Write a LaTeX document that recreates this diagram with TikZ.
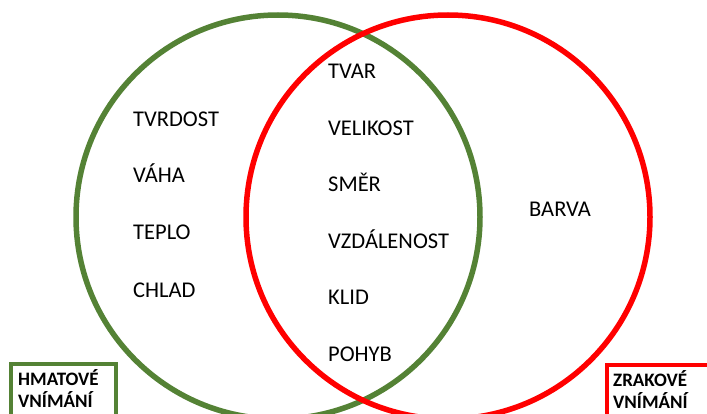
\documentclass[tikz,border=0pt]{standalone}
\usepackage{fontspec}
\setmainfont{Carlito}
\definecolor{touchgreen}{HTML}{548235}
\definecolor{sightred}{HTML}{FF0000}
\tikzset{%
    item/.style={
      anchor=base west,
      inner sep=0pt,
      font=\fontsize{22.5}{26}\selectfont
    },
    sense/.style={
      anchor=base west,
      inner sep=0pt,
      align=left,
      font=\fontsize{19}{22}\selectfont\bfseries
    },
    set/.style={
      line width=5.5pt
    },
    frame/.style={
      line width=4pt
    }
  }
\begin{document}
\begin{tikzpicture}[x=1pt, y=-1pt]
      \useasboundingbox (0,0) rectangle (707,414);
      \clip (0,0) rectangle (707,414);

      \draw [set, touchgreen] (278,217) circle [radius=202pt];
      \draw [set, sightred] (448,217) circle [radius=202pt];

      \node [item] (tvrdost) at (133,127) {TVRDOST};
      \node [item] (vaha) at (133,183) {VÁHA};
      \node [item] (teplo) at (133,240) {TEPLO};
      \node [item] (chlad) at (133,297) {CHLAD};

      \node [item] (tvar) at (328,79) {TVAR};
      \node [item] (velikost) at (328,136) {VELIKOST};
      \node [item] (smer) at (328,192) {SMĚR};
      \node [item] (vzdalenost) at (328,248) {VZDÁLENOST};
      \node [item] (klid) at (328,305) {KLID};
      \node [item] (pohyb) at (328,361) {POHYB};

      \node [item] (barva) at (529,217) {BARVA};

      \draw [frame, touchgreen] (11,364) rectangle (116,430);
      \node [sense] (hmat) at (18,407) {HMATOVÉ\\VNÍMÁNÍ};

      \draw [frame, sightred] (607,365) rectangle (720,430);
      \node [sense] (zrak) at (613,408) {ZRAKOVÉ\\VNÍMÁNÍ};
\end{tikzpicture}
\end{document}
